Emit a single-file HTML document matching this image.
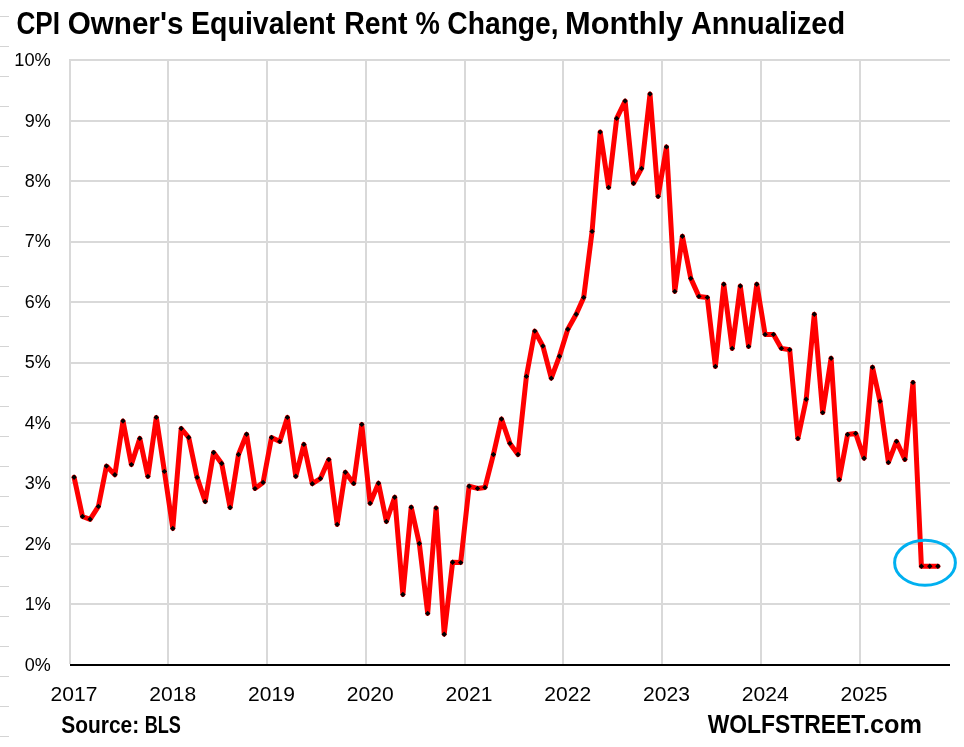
<!DOCTYPE html>
<html lang="en"><head><meta charset="utf-8"><title>CPI Owner's Equivalent Rent % Change, Monthly Annualized</title>
<style>html,body{margin:0;padding:0;background:#fff}body{width:964px;height:747px;overflow:hidden}svg{display:block}text{font-family:"Liberation Sans",sans-serif;fill:#000}.b{font-weight:700}.g{stroke:#D9D9D9;stroke-width:2;fill:none}.t{stroke:#D4D4D4;stroke-width:1}</style></head><body>
<svg width="964" height="747" viewBox="0 0 964 747">
<rect width="964" height="747" fill="#fff"/>
<path class="t" d="M0 16.5H9M0 46.5H9M0 76.5H9M0 106.5H9M0 136.5H9M0 166.5H9M0 196.5H9M0 226.5H9M0 256.5H9M0 286.5H9M0 316.5H9M0 346.5H9M0 376.5H9M0 406.5H9M0 436.5H9M0 466.5H9M0 496.5H9M0 526.5H9M0 556.5H9M0 586.5H9M0 616.5H9M0 646.5H9M0 676.5H9M0 706.5H9M0 736.5H9"/>
<path class="g" d="M69 60H950M69 121H950M69 181H950M69 242H950M69 302H950M69 363H950M69 423H950M69 483H950M69 544H950M69 604H950M70 59V664M168 59V664M267 59V664M366 59V664M465 59V664M563 59V664M662 59V664M761 59V664M860 59V664"/>
<path d="M70 665H950" stroke="#000" stroke-width="2" fill="none"/>
<path d="M74.1 477.2 L82.5 516.5 L90.1 519.3 L98.4 506.4 L106.5 466.1 L114.9 474.7 L123.0 421.0 L131.4 464.6 L139.8 438.4 L147.9 476.4 L156.3 417.4 L164.4 471.4 L172.8 528.5 L181.2 428.5 L188.7 437.5 L197.1 477.4 L205.2 501.5 L213.6 452.5 L221.7 463.5 L230.1 507.5 L238.5 454.5 L246.6 434.3 L255.0 488.6 L263.1 482.4 L271.5 437.5 L279.8 441.4 L287.4 417.4 L295.8 476.3 L303.9 444.4 L312.3 483.7 L320.4 478.5 L328.8 459.6 L337.2 524.4 L345.3 472.3 L353.7 483.4 L361.8 424.4 L370.1 503.2 L378.5 483.2 L386.4 521.5 L394.7 497.2 L402.9 594.5 L411.2 507.2 L419.3 543.5 L427.7 613.4 L436.1 508.1 L444.2 634.2 L452.6 562.3 L460.7 562.6 L469.1 486.3 L477.5 488.4 L485.0 487.4 L493.4 454.5 L501.5 419.0 L509.9 443.4 L518.0 454.5 L526.4 376.4 L534.8 331.1 L542.9 346.1 L551.3 378.2 L559.4 356.3 L567.8 329.3 L576.2 314.3 L583.7 297.4 L592.1 231.4 L600.2 132.1 L608.6 187.4 L616.7 118.4 L625.1 101.0 L633.5 183.2 L641.6 168.4 L650.0 94.0 L658.1 196.4 L666.5 146.9 L674.8 291.4 L682.4 236.3 L690.8 278.4 L698.9 296.4 L707.3 297.4 L715.4 366.4 L723.8 284.3 L732.2 348.4 L740.3 286.0 L748.6 346.4 L756.8 284.2 L765.1 334.4 L773.5 334.4 L781.4 348.4 L789.7 349.8 L797.9 438.4 L806.2 399.3 L814.3 314.3 L822.7 412.6 L831.1 358.2 L839.2 479.5 L847.6 434.5 L855.7 433.4 L864.1 458.3 L872.5 367.2 L880.0 401.3 L888.4 462.4 L896.5 441.4 L904.9 459.4 L913.0 382.4 L921.4 566.3 L929.8 566.3 L937.9 566.3" fill="none" stroke="#FF0000" stroke-width="5" stroke-linejoin="round" stroke-linecap="round"/>
<path d="M74.1 474.5l2.7 2.7l-2.7 2.7l-2.7 -2.7zM82.5 513.8l2.7 2.7l-2.7 2.7l-2.7 -2.7zM90.1 516.6l2.7 2.7l-2.7 2.7l-2.7 -2.7zM98.4 503.7l2.7 2.7l-2.7 2.7l-2.7 -2.7zM106.5 463.4l2.7 2.7l-2.7 2.7l-2.7 -2.7zM114.9 472.0l2.7 2.7l-2.7 2.7l-2.7 -2.7zM123.0 418.3l2.7 2.7l-2.7 2.7l-2.7 -2.7zM131.4 461.9l2.7 2.7l-2.7 2.7l-2.7 -2.7zM139.8 435.7l2.7 2.7l-2.7 2.7l-2.7 -2.7zM147.9 473.7l2.7 2.7l-2.7 2.7l-2.7 -2.7zM156.3 414.7l2.7 2.7l-2.7 2.7l-2.7 -2.7zM164.4 468.7l2.7 2.7l-2.7 2.7l-2.7 -2.7zM172.8 525.8l2.7 2.7l-2.7 2.7l-2.7 -2.7zM181.2 425.8l2.7 2.7l-2.7 2.7l-2.7 -2.7zM188.7 434.8l2.7 2.7l-2.7 2.7l-2.7 -2.7zM197.1 474.7l2.7 2.7l-2.7 2.7l-2.7 -2.7zM205.2 498.8l2.7 2.7l-2.7 2.7l-2.7 -2.7zM213.6 449.8l2.7 2.7l-2.7 2.7l-2.7 -2.7zM221.7 460.8l2.7 2.7l-2.7 2.7l-2.7 -2.7zM230.1 504.8l2.7 2.7l-2.7 2.7l-2.7 -2.7zM238.5 451.8l2.7 2.7l-2.7 2.7l-2.7 -2.7zM246.6 431.6l2.7 2.7l-2.7 2.7l-2.7 -2.7zM255.0 485.9l2.7 2.7l-2.7 2.7l-2.7 -2.7zM263.1 479.7l2.7 2.7l-2.7 2.7l-2.7 -2.7zM271.5 434.8l2.7 2.7l-2.7 2.7l-2.7 -2.7zM279.8 438.7l2.7 2.7l-2.7 2.7l-2.7 -2.7zM287.4 414.7l2.7 2.7l-2.7 2.7l-2.7 -2.7zM295.8 473.6l2.7 2.7l-2.7 2.7l-2.7 -2.7zM303.9 441.7l2.7 2.7l-2.7 2.7l-2.7 -2.7zM312.3 481.0l2.7 2.7l-2.7 2.7l-2.7 -2.7zM320.4 475.8l2.7 2.7l-2.7 2.7l-2.7 -2.7zM328.8 456.9l2.7 2.7l-2.7 2.7l-2.7 -2.7zM337.2 521.7l2.7 2.7l-2.7 2.7l-2.7 -2.7zM345.3 469.6l2.7 2.7l-2.7 2.7l-2.7 -2.7zM353.7 480.7l2.7 2.7l-2.7 2.7l-2.7 -2.7zM361.8 421.7l2.7 2.7l-2.7 2.7l-2.7 -2.7zM370.1 500.5l2.7 2.7l-2.7 2.7l-2.7 -2.7zM378.5 480.5l2.7 2.7l-2.7 2.7l-2.7 -2.7zM386.4 518.8l2.7 2.7l-2.7 2.7l-2.7 -2.7zM394.7 494.5l2.7 2.7l-2.7 2.7l-2.7 -2.7zM402.9 591.8l2.7 2.7l-2.7 2.7l-2.7 -2.7zM411.2 504.5l2.7 2.7l-2.7 2.7l-2.7 -2.7zM419.3 540.8l2.7 2.7l-2.7 2.7l-2.7 -2.7zM427.7 610.7l2.7 2.7l-2.7 2.7l-2.7 -2.7zM436.1 505.4l2.7 2.7l-2.7 2.7l-2.7 -2.7zM444.2 631.5l2.7 2.7l-2.7 2.7l-2.7 -2.7zM452.6 559.6l2.7 2.7l-2.7 2.7l-2.7 -2.7zM460.7 559.9l2.7 2.7l-2.7 2.7l-2.7 -2.7zM469.1 483.6l2.7 2.7l-2.7 2.7l-2.7 -2.7zM477.5 485.7l2.7 2.7l-2.7 2.7l-2.7 -2.7zM485.0 484.7l2.7 2.7l-2.7 2.7l-2.7 -2.7zM493.4 451.8l2.7 2.7l-2.7 2.7l-2.7 -2.7zM501.5 416.3l2.7 2.7l-2.7 2.7l-2.7 -2.7zM509.9 440.7l2.7 2.7l-2.7 2.7l-2.7 -2.7zM518.0 451.8l2.7 2.7l-2.7 2.7l-2.7 -2.7zM526.4 373.7l2.7 2.7l-2.7 2.7l-2.7 -2.7zM534.8 328.4l2.7 2.7l-2.7 2.7l-2.7 -2.7zM542.9 343.4l2.7 2.7l-2.7 2.7l-2.7 -2.7zM551.3 375.5l2.7 2.7l-2.7 2.7l-2.7 -2.7zM559.4 353.6l2.7 2.7l-2.7 2.7l-2.7 -2.7zM567.8 326.6l2.7 2.7l-2.7 2.7l-2.7 -2.7zM576.2 311.6l2.7 2.7l-2.7 2.7l-2.7 -2.7zM583.7 294.7l2.7 2.7l-2.7 2.7l-2.7 -2.7zM592.1 228.7l2.7 2.7l-2.7 2.7l-2.7 -2.7zM600.2 129.4l2.7 2.7l-2.7 2.7l-2.7 -2.7zM608.6 184.7l2.7 2.7l-2.7 2.7l-2.7 -2.7zM616.7 115.7l2.7 2.7l-2.7 2.7l-2.7 -2.7zM625.1 98.3l2.7 2.7l-2.7 2.7l-2.7 -2.7zM633.5 180.5l2.7 2.7l-2.7 2.7l-2.7 -2.7zM641.6 165.7l2.7 2.7l-2.7 2.7l-2.7 -2.7zM650.0 91.3l2.7 2.7l-2.7 2.7l-2.7 -2.7zM658.1 193.7l2.7 2.7l-2.7 2.7l-2.7 -2.7zM666.5 144.2l2.7 2.7l-2.7 2.7l-2.7 -2.7zM674.8 288.7l2.7 2.7l-2.7 2.7l-2.7 -2.7zM682.4 233.6l2.7 2.7l-2.7 2.7l-2.7 -2.7zM690.8 275.7l2.7 2.7l-2.7 2.7l-2.7 -2.7zM698.9 293.7l2.7 2.7l-2.7 2.7l-2.7 -2.7zM707.3 294.7l2.7 2.7l-2.7 2.7l-2.7 -2.7zM715.4 363.7l2.7 2.7l-2.7 2.7l-2.7 -2.7zM723.8 281.6l2.7 2.7l-2.7 2.7l-2.7 -2.7zM732.2 345.7l2.7 2.7l-2.7 2.7l-2.7 -2.7zM740.3 283.3l2.7 2.7l-2.7 2.7l-2.7 -2.7zM748.6 343.7l2.7 2.7l-2.7 2.7l-2.7 -2.7zM756.8 281.5l2.7 2.7l-2.7 2.7l-2.7 -2.7zM765.1 331.7l2.7 2.7l-2.7 2.7l-2.7 -2.7zM773.5 331.7l2.7 2.7l-2.7 2.7l-2.7 -2.7zM781.4 345.7l2.7 2.7l-2.7 2.7l-2.7 -2.7zM789.7 347.1l2.7 2.7l-2.7 2.7l-2.7 -2.7zM797.9 435.7l2.7 2.7l-2.7 2.7l-2.7 -2.7zM806.2 396.6l2.7 2.7l-2.7 2.7l-2.7 -2.7zM814.3 311.6l2.7 2.7l-2.7 2.7l-2.7 -2.7zM822.7 409.9l2.7 2.7l-2.7 2.7l-2.7 -2.7zM831.1 355.5l2.7 2.7l-2.7 2.7l-2.7 -2.7zM839.2 476.8l2.7 2.7l-2.7 2.7l-2.7 -2.7zM847.6 431.8l2.7 2.7l-2.7 2.7l-2.7 -2.7zM855.7 430.7l2.7 2.7l-2.7 2.7l-2.7 -2.7zM864.1 455.6l2.7 2.7l-2.7 2.7l-2.7 -2.7zM872.5 364.5l2.7 2.7l-2.7 2.7l-2.7 -2.7zM880.0 398.6l2.7 2.7l-2.7 2.7l-2.7 -2.7zM888.4 459.7l2.7 2.7l-2.7 2.7l-2.7 -2.7zM896.5 438.7l2.7 2.7l-2.7 2.7l-2.7 -2.7zM904.9 456.7l2.7 2.7l-2.7 2.7l-2.7 -2.7zM913.0 379.7l2.7 2.7l-2.7 2.7l-2.7 -2.7zM921.4 563.6l2.7 2.7l-2.7 2.7l-2.7 -2.7zM929.8 563.6l2.7 2.7l-2.7 2.7l-2.7 -2.7zM937.9 563.6l2.7 2.7l-2.7 2.7l-2.7 -2.7z" fill="#000"/>
<ellipse cx="925" cy="562.7" rx="30.4" ry="22.5" fill="none" stroke="#00B0F0" stroke-width="3"/>
<text class="b" y="34.00" font-size="30.67"><tspan x="16.45" textLength="43.60" lengthAdjust="spacingAndGlyphs">CPI</tspan> <tspan x="67.71" textLength="115.74" lengthAdjust="spacingAndGlyphs">Owner's</tspan> <tspan x="191.10" textLength="144.18" lengthAdjust="spacingAndGlyphs">Equivalent</tspan> <tspan x="344.21" textLength="63.14" lengthAdjust="spacingAndGlyphs">Rent</tspan> <tspan x="415.46" textLength="24.35" lengthAdjust="spacingAndGlyphs">%</tspan> <tspan x="447.37" textLength="111.25" lengthAdjust="spacingAndGlyphs">Change,</tspan> <tspan x="565.05" textLength="118.03" lengthAdjust="spacingAndGlyphs">Monthly</tspan> <tspan x="690.93" textLength="154.20" lengthAdjust="spacingAndGlyphs">Annualized</tspan></text>
<text class="b" y="733.00" font-size="23.26"><tspan x="61.27" textLength="77.95" lengthAdjust="spacingAndGlyphs">Source:</tspan> <tspan x="144.69" textLength="36.23" lengthAdjust="spacingAndGlyphs">BLS</tspan></text>
<text class="b" y="732.70" font-size="25.58"><tspan x="707.72" textLength="157.54" lengthAdjust="spacingAndGlyphs">WOLFSTREET</tspan><tspan x="863.01" textLength="59.02" lengthAdjust="spacingAndGlyphs">.com</tspan></text>
<text x="14.30" y="66.10" font-size="18.86" textLength="36.54" lengthAdjust="spacingAndGlyphs">10%</text>
<text x="24.81" y="126.55" font-size="18.86" textLength="26.03" lengthAdjust="spacingAndGlyphs">9%</text>
<text x="24.81" y="187.00" font-size="18.86" textLength="26.03" lengthAdjust="spacingAndGlyphs">8%</text>
<text x="24.81" y="247.45" font-size="18.86" textLength="26.03" lengthAdjust="spacingAndGlyphs">7%</text>
<text x="24.81" y="307.90" font-size="18.86" textLength="26.03" lengthAdjust="spacingAndGlyphs">6%</text>
<text x="24.81" y="368.35" font-size="18.86" textLength="26.03" lengthAdjust="spacingAndGlyphs">5%</text>
<text x="24.81" y="428.80" font-size="18.86" textLength="26.03" lengthAdjust="spacingAndGlyphs">4%</text>
<text x="24.81" y="489.25" font-size="18.86" textLength="26.03" lengthAdjust="spacingAndGlyphs">3%</text>
<text x="24.81" y="549.70" font-size="18.86" textLength="26.03" lengthAdjust="spacingAndGlyphs">2%</text>
<text x="24.81" y="610.15" font-size="18.86" textLength="26.03" lengthAdjust="spacingAndGlyphs">1%</text>
<text x="24.81" y="670.60" font-size="18.86" textLength="26.03" lengthAdjust="spacingAndGlyphs">0%</text>
<text x="50.55" y="700.9" font-size="21.00" textLength="46.83" lengthAdjust="spacingAndGlyphs">2017</text>
<text x="149.30" y="700.9" font-size="21.00" textLength="46.83" lengthAdjust="spacingAndGlyphs">2018</text>
<text x="248.05" y="700.9" font-size="21.00" textLength="46.83" lengthAdjust="spacingAndGlyphs">2019</text>
<text x="346.80" y="700.9" font-size="21.00" textLength="46.83" lengthAdjust="spacingAndGlyphs">2020</text>
<text x="445.55" y="700.9" font-size="21.00" textLength="46.83" lengthAdjust="spacingAndGlyphs">2021</text>
<text x="544.30" y="700.9" font-size="21.00" textLength="46.83" lengthAdjust="spacingAndGlyphs">2022</text>
<text x="643.05" y="700.9" font-size="21.00" textLength="46.83" lengthAdjust="spacingAndGlyphs">2023</text>
<text x="741.80" y="700.9" font-size="21.00" textLength="46.83" lengthAdjust="spacingAndGlyphs">2024</text>
<text x="840.55" y="700.9" font-size="21.00" textLength="46.83" lengthAdjust="spacingAndGlyphs">2025</text>
</svg></body></html>
